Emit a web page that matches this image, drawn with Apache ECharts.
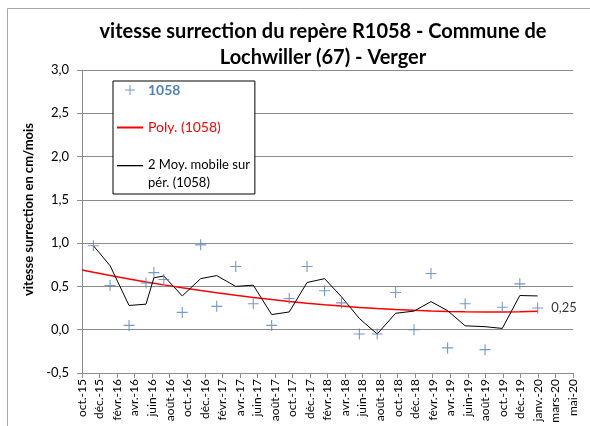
<!DOCTYPE html>
<html>
<head>
<meta charset="utf-8">
<script src="https://cdn.jsdelivr.net/npm/echarts@6/dist/echarts.min.js"></script>
<style>
    html, body { margin: 0; padding: 0; background: #fff; }
    #chart { width: 590px; height: 426px; }
</style>
</head>
<body>
<div id="chart"></div>
<script>
// mesures du repère R1058
var measureDates = [
    '2015-12-01', '2016-01-27', '2016-04-01', '2016-05-29', '2016-06-25', '2016-07-29',
    '2016-09-30', '2016-12-02', '2017-01-26', '2017-04-01', '2017-05-31', '2017-08-02',
    '2017-10-01', '2017-12-01', '2018-01-30', '2018-03-29', '2018-05-29', '2018-07-29',
    '2018-09-30', '2018-12-02', '2019-01-29', '2019-03-27', '2019-05-26', '2019-08-02',
    '2019-09-30', '2019-11-29', '2020-01-29'
];
var speedValues = [
    0.97, 0.51, 0.05, 0.54, 0.66, 0.58,
    0.20, 0.98, 0.27, 0.73, 0.30, 0.05,
    0.36, 0.73, 0.45, 0.31, -0.05, -0.05,
    0.43, 0.00, 0.65, -0.21, 0.30, -0.23,
    0.26, 0.53, 0.25
];
// courbe de tendance : début de l'axe puis chaque date
var trendValues = [
    0.69, 0.664, 0.627, 0.587, 0.552, 0.537, 0.518,
    0.485, 0.453, 0.427, 0.398, 0.373, 0.349,
    0.327, 0.307, 0.289, 0.273, 0.258, 0.245,
    0.234, 0.224, 0.217, 0.211, 0.207, 0.204,
    0.204, 0.207, 0.214
];
var tickLabels = [
    'oct.-15', 'déc.-15', 'févr.-16', 'avr.-16', 'juin-16', 'août-16', 'oct.-16', 'déc.-16',
    'févr.-17', 'avr.-17', 'juin-17', 'août-17', 'oct.-17', 'déc.-17', 'févr.-18', 'avr.-18',
    'juin-18', 'août-18', 'oct.-18', 'déc.-18', 'févr.-19', 'avr.-19', 'juin-19', 'août-19',
    'oct.-19', 'déc.-19', 'janv.-20', 'mars-20', 'mai-20'
];
var axisStart = '2015-10-23';
var tickStep = 60; // jours entre deux graduations

var plusPath = 'path://M4.5,0h1v4.5h4.5v1h-4.5v4.5h-1v-4.5h-4.5v-1h4.5z';
// icones de légende dans une boite 18 de haut
var plusIcon = 'path://M0,0M8.5,4h1v4.5h4.5v1h-4.5v4.5h-1v-4.5h-4.5v-1h4.5zM18,18';
var polyIcon = 'path://M0,8h26v2h-26z';
var maIcon = 'path://M26,18M0,0h26v1.3h-26z';
var maName = '2 Moy. mobile sur\npér. (1058)';

function dayOf(d) {
    return Math.round((Date.parse(d) - Date.parse(axisStart)) / 86400000);
}

var pointData = [];
var trendData = [[0, trendValues[0]]];
var maData = [];
for (var i = 0; i < measureDates.length; i++) {
    var x = dayOf(measureDates[i]);
    pointData.push([x, speedValues[i]]);
    trendData.push([x, trendValues[i + 1]]);
    // moyenne mobile sur 2 périodes
    var avg = i === 0 ? speedValues[0] : (speedValues[i - 1] + speedValues[i]) / 2;
    maData.push([x, avg]);
}
var lastIdx = pointData.length - 1;

var chart = echarts.init(document.getElementById('chart'));
chart.setOption({
    animation: false,
    textStyle: { fontFamily: 'Lato' },
    graphic: [{
        type: 'rect',
        shape: { x: 7.5, y: 8.5, width: 700, height: 600 },
        style: { fill: 'none', stroke: '#a6a6a6', lineWidth: 1 },
        silent: true
    }],
    title: {
        text: 'vitesse surrection du repère R1058 - Commune de\nLochwiller (67) - Verger',
        left: 318,
        top: 14,
        textAlign: 'center',
        textStyle: { fontFamily: 'Lato', fontWeight: 'bold', fontSize: 20, lineHeight: 26, color: '#000' }
    },
    legend: {
        orient: 'vertical',
        left: 113,
        top: 81,
        padding: [0, 5, 2, 4],
        borderColor: '#000',
        borderWidth: 1,
        backgroundColor: '#fff',
        itemWidth: 26,
        itemHeight: 18,
        itemGap: 19.5,
        itemStyle: { borderWidth: 0 },
        data: [
            { name: '1058', icon: plusIcon, textStyle: { color: '#4F81BD', fontWeight: 'bold', fontSize: 14, lineHeight: 18 } },
            { name: 'Poly. (1058)', icon: polyIcon, textStyle: { color: '#FF0000', fontSize: 14, lineHeight: 18 } },
            { name: maName, icon: maIcon, textStyle: { color: '#000', fontSize: 13, lineHeight: 18 } }
        ]
    },
    grid: { left: 82, right: 17, top: 70, bottom: 53 },
    xAxis: {
        type: 'value',
        min: 0,
        max: tickStep * (tickLabels.length - 1),
        interval: tickStep,
        splitLine: { show: false },
        axisLine: { onZero: false, lineStyle: { color: '#8c8c8c' } },
        axisTick: { show: true, length: 5, lineStyle: { color: '#8c8c8c' } },
        axisLabel: {
            rotate: 90,
            fontSize: 12,
            color: '#000',
            margin: 6,
            formatter: function (v) { return tickLabels[Math.round(v / tickStep)]; }
        }
    },
    yAxis: {
        type: 'value',
        min: -0.5,
        max: 3,
        interval: 0.5,
        name: 'vitesse surrection en cm/mois',
        nameLocation: 'middle',
        nameGap: 46,
        nameTextStyle: { fontWeight: 'bold', fontSize: 13, color: '#000', padding: [0, 0, 0, 24] },
        axisLine: { show: true, lineStyle: { color: '#8c8c8c' } },
        axisTick: { show: true, length: 5, lineStyle: { color: '#8c8c8c' } },
        splitLine: { lineStyle: { color: '#8c8c8c' } },
        axisLabel: {
            fontSize: 13,
            color: '#000',
            margin: 13,
            formatter: function (v) { return v.toFixed(1).replace('.', ','); }
        }
    },
    series: [
        {
            name: '1058',
            type: 'scatter',
            symbol: plusPath,
            symbolSize: 11,
            itemStyle: { color: '#4F81BD' },
            data: pointData,
            label: {
                show: true,
                position: 'right',
                distance: 8,
                fontSize: 13,
                color: '#000',
                formatter: function (p) {
                    return p.dataIndex === lastIdx ? p.value[1].toFixed(2).replace('.', ',') : '';
                }
            },
            z: 3
        },
        {
            name: 'Poly. (1058)',
            type: 'line',
            symbol: 'none',
            lineStyle: { color: '#FF0000', width: 1.5 },
            itemStyle: { color: '#FF0000' },
            data: trendData,
            z: 2
        },
        {
            name: maName,
            type: 'line',
            symbol: 'none',
            lineStyle: { color: '#000', width: 1 },
            itemStyle: { color: '#000' },
            data: maData,
            z: 2
        }
    ]
});
</script>
</body>
</html>
